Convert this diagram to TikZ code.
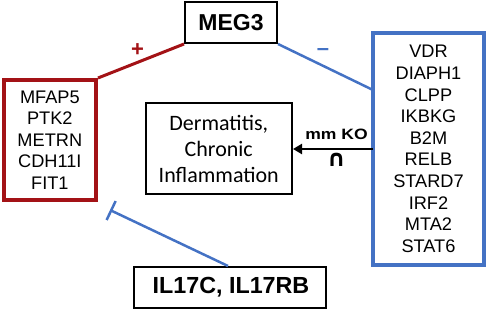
\documentclass[tikz,border=0pt]{standalone}
\usepackage{fontspec}
\setmainfont{Liberation Sans}
\newfontfamily\calib{Carlito}
\newfontfamily\djv{DejaVu Sans}
\usetikzlibrary{arrows.meta}
\definecolor{dkred}{RGB}{163,18,22}
\definecolor{offblue}{RGB}{68,114,196}
\tikzset{
  blk/.style={draw=black, line width=2pt, inner sep=0pt, align=center},
  redbox/.style={draw=dkred, line width=4pt, inner sep=0pt, align=center},
  bluebox/.style={draw=offblue, line width=4pt, inner sep=0pt, align=center},
  redline/.style={draw=dkred, line width=3pt},
  blueline/.style={draw=offblue, line width=2.5pt},
  koarrow/.style={draw=black, line width=2.5pt, -{Triangle[length=9pt,width=10pt]}},
  genes/.style={font=\fontsize{18.2}{21.6}\selectfont},
}
\begin{document}
\begin{tikzpicture}[x=1pt,y=-1pt]
\useasboundingbox (0,0) rectangle (488,310);
\node[blk, minimum width=92pt, minimum height=41pt, font=\fontsize{23}{26}\selectfont\bfseries] (meg) at (231,22.5) {MEG3};
\node[redbox, genes, minimum width=92.3pt, minimum height=120pt] (red) at (49.85,140) {MFAP5\\PTK2\\METRN\\CDH11I\\FIT1};
\node[bluebox, genes, minimum width=111pt, minimum height=232pt] (blue) at (428.5,149) {VDR\\DIAPH1\\CLPP\\IKBKG\\B2M\\RELB\\STARD7\\IRF2\\MTA2\\STAT6};
\node[blk, minimum width=146.5pt, minimum height=91.5pt, font=\calib\fontsize{22}{26}\selectfont] (derm) at (218.75,148.75) {Dermatitis,\\Chronic\\Inflammation};
\node[blk, minimum width=192pt, minimum height=41pt, font=\fontsize{23.3}{26}\selectfont\bfseries] (il) at (229.5,287.5) {\hspace{3pt}IL17C, IL17RB};
\coordinate (bhit) at (373,90);
\coordinate (astart) at (373,149);
\coordinate (tend) at (110,210);
\draw[redline] (red.north east) -- (meg.south west);
\draw[blueline] (meg.south east) -- (bhit);
\draw[koarrow] (astart) -- (derm.east |- astart);
\draw[blueline, -{Bar[width=21pt]}] ([xshift=-1.5pt]il.north) -- (tend);
\node[text=dkred, font=\fontsize{22}{24}\selectfont\bfseries] (plus) at (137.5,50) {+};
\node[text=offblue, font=\fontsize{22}{24}\selectfont\bfseries] (minus) at (323,52) {–};
\node[font=\fontsize{15}{17}\selectfont\bfseries, xscale=1.17] (ko) at (336.5,134.5) {mm KO};
\node[font=\djv\fontsize{23}{25}\selectfont\bfseries] (cap) at (336.5,160) {∩};
\end{tikzpicture}
\end{document}
